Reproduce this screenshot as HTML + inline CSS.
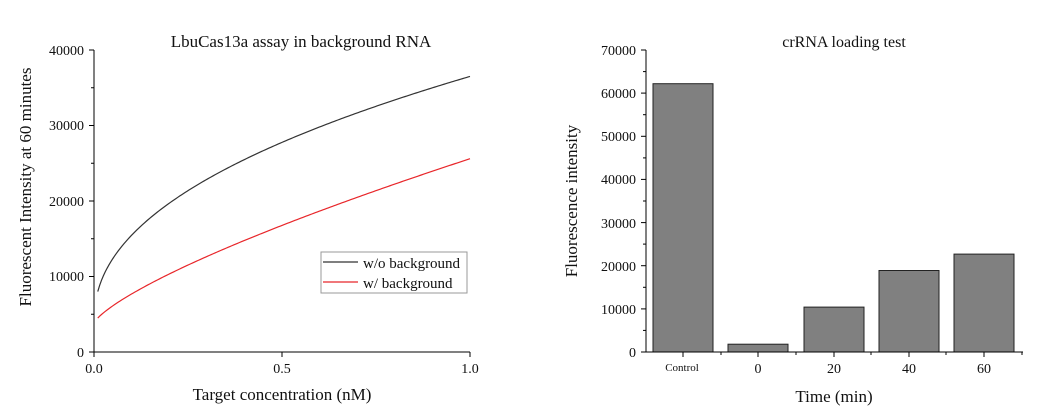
<!DOCTYPE html>
<html><head><style>body{margin:0;background:#fff}svg{display:block}text{font-family:"Liberation Serif",serif;fill:#111}</style></head><body>
<svg width="1044" height="417" viewBox="0 0 1044 417" xmlns="http://www.w3.org/2000/svg">
<!-- Left chart -->
<text x="301" y="47" font-size="17" text-anchor="middle">LbuCas13a assay in background RNA</text>
<g stroke="#000" stroke-width="1" fill="none">
<line x1="94" y1="50" x2="94" y2="352"/><line x1="94" y1="352" x2="470" y2="352"/>
<line x1="89" y1="50" x2="94" y2="50"/><line x1="89" y1="125.5" x2="94" y2="125.5"/><line x1="89" y1="201" x2="94" y2="201"/><line x1="89" y1="276.5" x2="94" y2="276.5"/><line x1="89" y1="352" x2="94" y2="352"/>
<line x1="91" y1="87.75" x2="94" y2="87.75"/><line x1="91" y1="163.25" x2="94" y2="163.25"/><line x1="91" y1="238.75" x2="94" y2="238.75"/><line x1="91" y1="314.25" x2="94" y2="314.25"/>
<line x1="94" y1="352" x2="94" y2="357"/><line x1="282" y1="352" x2="282" y2="357"/><line x1="470" y1="352" x2="470" y2="357"/>
</g>
<g font-size="14" text-anchor="end">
<text x="84" y="55">40000</text><text x="84" y="130">30000</text><text x="84" y="206">20000</text><text x="84" y="281">10000</text><text x="84" y="357">0</text>
</g>
<g font-size="14" text-anchor="middle"><text x="94" y="373">0.0</text><text x="282" y="373">0.5</text><text x="470" y="373">1.0</text></g>
<text x="282" y="400" font-size="17" text-anchor="middle">Target concentration (nM)</text>
<text transform="translate(31,187) rotate(-90)" font-size="17" text-anchor="middle">Fluorescent Intensity at 60 minutes</text>
<path id="c1" fill="none" stroke="#333" stroke-width="1.2" d=""/>
<path id="c2" fill="none" stroke="#e8262a" stroke-width="1.2" d=""/>
<rect x="321" y="252" width="146" height="41" fill="#fff" stroke="#999"/>
<line x1="323" y1="262" x2="358" y2="262" stroke="#333" stroke-width="1.2"/>
<line x1="323" y1="282" x2="358" y2="282" stroke="#e8262a" stroke-width="1.2"/>
<text x="363" y="268" font-size="15">w/o background</text>
<text x="363" y="288" font-size="15">w/ background</text>
<!-- Right chart -->
<text x="844" y="47" font-size="16" text-anchor="middle">crRNA loading test</text>
<g fill="#808080" stroke="#222" stroke-width="1">
<rect x="653" y="83.7" width="60" height="268.3"/>
<rect x="728" y="344.2" width="60" height="7.8"/>
<rect x="804" y="307.1" width="60" height="44.9"/>
<rect x="879" y="270.5" width="60" height="81.5"/>
<rect x="954" y="254.1" width="60" height="97.9"/>
</g>
<g stroke="#000" stroke-width="1" fill="none">
<line x1="646" y1="50" x2="646" y2="352"/><line x1="646" y1="352" x2="1023" y2="352"/>
<line x1="641" y1="50" x2="646" y2="50"/><line x1="641" y1="93.1" x2="646" y2="93.1"/><line x1="641" y1="136.3" x2="646" y2="136.3"/><line x1="641" y1="179.4" x2="646" y2="179.4"/><line x1="641" y1="222.6" x2="646" y2="222.6"/><line x1="641" y1="265.7" x2="646" y2="265.7"/><line x1="641" y1="308.9" x2="646" y2="308.9"/><line x1="641" y1="352" x2="646" y2="352"/>
<line x1="643" y1="71.6" x2="646" y2="71.6"/><line x1="643" y1="114.7" x2="646" y2="114.7"/><line x1="643" y1="157.9" x2="646" y2="157.9"/><line x1="643" y1="201" x2="646" y2="201"/><line x1="643" y1="244.1" x2="646" y2="244.1"/><line x1="643" y1="287.3" x2="646" y2="287.3"/><line x1="643" y1="330.4" x2="646" y2="330.4"/>
<line x1="683" y1="352" x2="683" y2="357"/><line x1="758" y1="352" x2="758" y2="357"/><line x1="834" y1="352" x2="834" y2="357"/><line x1="909" y1="352" x2="909" y2="357"/><line x1="984" y1="352" x2="984" y2="357"/>
<line x1="721" y1="352" x2="721" y2="355"/><line x1="796" y1="352" x2="796" y2="355"/><line x1="871" y1="352" x2="871" y2="355"/><line x1="946" y1="352" x2="946" y2="355"/><line x1="1022" y1="352" x2="1022" y2="355"/>
</g>
<g font-size="14" text-anchor="end">
<text x="636" y="55">70000</text><text x="636" y="98">60000</text><text x="636" y="141">50000</text><text x="636" y="184">40000</text><text x="636" y="228">30000</text><text x="636" y="271">20000</text><text x="636" y="314">10000</text><text x="636" y="357">0</text>
</g>
<g font-size="14" text-anchor="middle"><text x="682" y="371" font-size="11">Control</text><text x="758" y="373">0</text><text x="834" y="373">20</text><text x="909" y="373">40</text><text x="984" y="373">60</text></g>
<text x="834" y="402" font-size="17" text-anchor="middle">Time (min)</text>
<text transform="translate(577,201) rotate(-90)" font-size="17" text-anchor="middle">Fluorescence intensity</text>
<script>
function mk(a,b,p){var d="";for(var i=0;i<=200;i++){var x=0.01+0.99*i/200;var y=a+b*Math.pow(x,p);d+=(i?"L":"M")+(94+376*x).toFixed(2)+","+(352-y*302/40000).toFixed(2);}return d;}
document.getElementById("c1").setAttribute("d",mk(3900,32600,0.45));
document.getElementById("c2").setAttribute("d",mk(3811,21789,0.75));
</script>
</svg>
</body></html>
